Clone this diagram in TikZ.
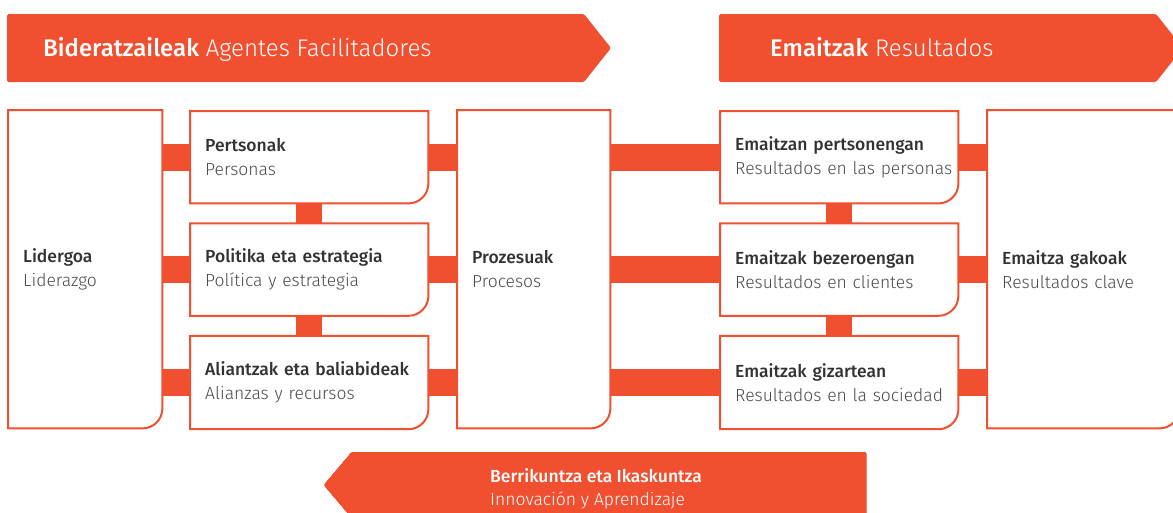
\documentclass[tikz,border=0pt]{standalone}
\usepackage{fontspec}
\setmainfont{Fira Sans Light}[BoldFont={Fira Sans Medium}]
\usetikzlibrary{positioning}

\definecolor{efqm}{RGB}{240,80,48}
\definecolor{titgray}{RGB}{50,50,50}
\definecolor{subgray}{RGB}{75,75,75}

\newcommand{\etiq}[2]{\mbox{\color{titgray}\textbf{#1}}\\\mbox{\color{subgray}#2}}
\newcommand{\cajaborde}[1]{\draw[caja] (#1.north west) -- (#1.north east) -- ([yshift=20pt]#1.south east) arc[start angle=0,end angle=-90,radius=20pt] -- (#1.south west) -- cycle;}

\tikzset{
  caja/.style={draw=efqm, line width=2pt},
  cajanodo/.style={anchor=north west, inner xsep=15pt, inner ysep=0pt, minimum width=#1,
    text width=#1-30pt, align=left, font=\fontsize{17.5}{24}\selectfont},
  barra/.style={draw=efqm, line width=27pt},
  barrav/.style={draw=efqm, line width=26pt},
  banner/.style={fill=efqm, rounded corners=1.5pt},
  bannertxt/.style={text=white, inner sep=0pt, font=\fontsize{24}{28}\selectfont},
}

\begin{document}
\begin{tikzpicture}[x=1pt,y=1pt]
    \useasboundingbox (0,0) rectangle (1173,-512);
    \clip (0,0) rectangle (1173,-512);
    % cabeceras
    \fill[banner] (7,-14) -- (584,-14) -- (611,-48) -- (584,-82) -- (7,-82) -- cycle;
    \node[bannertxt, anchor=base west] (bider) at (43,-56) {\textbf{Bideratzaileak} Agentes Facilitadores};
    \fill[banner] (719,-14) -- (1156,-14) -- (1183,-48) -- (1156,-82) -- (719,-82) -- cycle;
    \node[bannertxt, anchor=base west] (emait) at (770,-56) {\textbf{Emaitzak} Resultados};
    % cajas grandes
    \node[cajanodo=154pt, minimum height=318pt] (lid) at (8,-110) {\etiq{Lidergoa}{Liderazgo}};
    \node[cajanodo=153pt, minimum height=318pt] (pro) at (457,-110) {\etiq{Prozesuak}{Procesos}};
    \node[cajanodo=192pt, minimum height=318pt] (gak) at (987,-110) {\etiq{Emaitza gakoak}{Resultados clave}};
    % agentes
    \node[cajanodo=238pt, minimum height=92pt] (per) at (190,-111) {\etiq{Pertsonak}{Personas}};
    \node[cajanodo=238pt, minimum height=92pt, below=20pt of per] (pol) {\etiq{Politika eta estrategia}{Política y estrategia}};
    \node[cajanodo=238pt, minimum height=93pt, below=20pt of pol] (ali) {\etiq{Aliantzak eta baliabideak}{Alianzas y recursos}};
    % resultados
    \node[cajanodo=238pt, minimum height=92pt] (rpe) at (720,-111) {\etiq{Emaitzan pertsonengan}{Resultados en las personas}};
    \node[cajanodo=238pt, minimum height=92pt, below=20pt of rpe] (rcl) {\etiq{Emaitzak bezeroengan}{Resultados en clientes}};
    \node[cajanodo=238pt, minimum height=93pt, below=20pt of rcl] (rso) {\etiq{Emaitzak gizartean}{Resultados en la sociedad}};
    % barras
    \foreach \c in {per,pol,ali}{
        \draw[barra] (\c.west) -- (\c.west -| lid.east);
        \draw[barra] (\c.east) -- (\c.east -| pro.west);
    }
    \foreach \c in {rpe,rcl,rso}{
        \draw[barra] (\c.west) -- (\c.west -| pro.east);
        \draw[barra] (\c.east) -- (\c.east -| gak.west);
    }
    \foreach \a/\b in {per/pol,pol/ali,rpe/rcl,rcl/rso}
        \draw[barrav] (\a.south) -- (\b.north);
    % bordes
    \foreach \c in {lid,pro,gak,per,pol,ali,rpe,rcl,rso}
        \cajaborde{\c}
    % aprendizaje
    \fill[banner] (866,-452) -- (352,-452) -- (324,-485) -- (352,-518) -- (866,-518) -- cycle;
    \node[text=white, inner sep=0pt, anchor=north west, align=left, font=\fontsize{17.5}{23}\selectfont] (inno) at (490,-468) {\textbf{Berrikuntza eta Ikaskuntza}\\Innovación y Aprendizaje};
\end{tikzpicture}
\end{document}
